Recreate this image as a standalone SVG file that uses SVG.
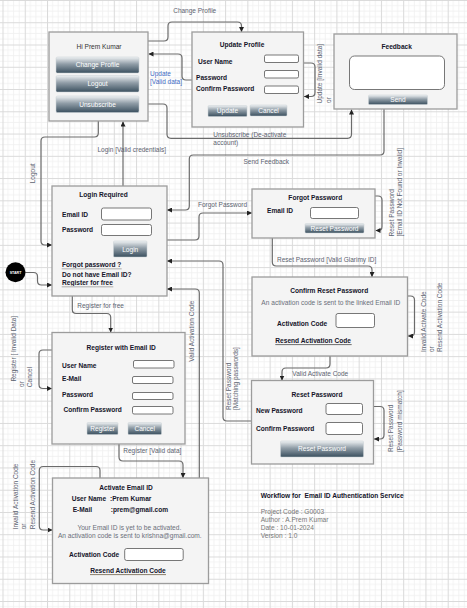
<svg xmlns="http://www.w3.org/2000/svg" width="467" height="608" viewBox="0 0 467 608">
<style>
text{font-family:"Liberation Sans",Arial,Helvetica,sans-serif;font-size:6.6px}
.b{font-weight:bold;fill:#15152a}
.n{fill:#333}
.info{fill:#6a6f7a}
.c{text-anchor:middle}
.lbl{fill:#5c6370;font-size:6.5px}
.blue{fill:#3f6cc4;font-size:6.5px}
.btn{fill:#fff;text-anchor:middle}
.box{fill:#f4f4f4;stroke:#9c9c9c;stroke-width:1.3}
.inp{fill:#fff;stroke:#555;stroke-width:0.8}
.bt{fill:url(#bg);stroke:#c9d0d5;stroke-width:0.5}
.edge{fill:none;stroke:#6b6b6b;stroke-width:1.2;marker-end:url(#arr)}
.loop{fill:none;stroke:#6b6b6b;stroke-width:1.2;marker-end:url(#arr)}
.info2{fill:#777;font-size:6.6px}
</style>
<defs>
<pattern id="grid" width="22.26" height="22.26" patternUnits="userSpaceOnUse" x="2.5" y="0">
<rect width="22.26" height="22.26" fill="#fff"/>
<path d="M5.565 0V22.26M11.13 0V22.26M16.695 0V22.26M0 5.565H22.26M0 11.13H22.26M0 16.695H22.26" stroke="#efefef" stroke-width="0.8"/>
<path d="M0.5 0V22.26M0 0.5H22.26" stroke="#dadada" stroke-width="1"/>
</pattern>
<linearGradient id="bg" x1="0" y1="0" x2="0" y2="1">
<stop offset="0" stop-color="#eef1f3"/>
<stop offset="0.45" stop-color="#8f9ca6"/>
<stop offset="1" stop-color="#3b505f"/>
</linearGradient>
<marker id="arr" markerWidth="5" markerHeight="5" refX="5" refY="2.5" orient="auto" markerUnits="userSpaceOnUse">
<path d="M0,0 L5,2.5 L0,5 z" fill="#222"/>
</marker>
</defs>
<rect width="467" height="608" fill="url(#grid)"/>

<g id="connectors">
<path class="edge" d="M148,41 H164 Q168,41 168,37 V26 Q168,22 172,22 H237.5 Q241.5,22 241.5,26 V32"/>
<path class="edge" d="M192,80 H186 Q182,80 182,76 V58 Q182,54 178,54 H148.5"/>
<path class="loop" d="M303,63 H311 Q315,63 315,67 V92.5 Q315,96.5 311,96.5 H304"/>
<path class="edge" d="M148,104 H163 Q167,104 167,108 V134.3 Q167,138.3 171,138.3 H347.5 Q351.5,138.3 351.5,134.3 V109.5"/>
<path class="edge" d="M384,109 V151 Q384,155 380,155 H193.3 Q189.3,155 189.3,159 V206 Q189.3,210 185.3,210 H167"/>
<path class="edge" d="M98.3,121 V133 Q98.3,137 94.3,137 H45 Q41,137 41,141 V241 Q41,245 45,245 H52"/>
<path class="edge" d="M123,186 V121.5"/>
<path class="edge" d="M167,240 H195 Q199,240 199,236 V217 Q199,213 203,213 H252"/>
<path class="loop" d="M375,196 H378 Q382,196 382,200 V226.5 Q382,230.5 378,230.5 H375.5"/>
<path class="edge" d="M272.3,238 V262 Q272.3,266 276.3,266 H368 Q372,266 372,270 V277"/>
<path class="loop" d="M407.5,296 H410.5 Q414.5,296 414.5,300 V332 Q414.5,336 410.5,336 H408"/>
<path class="edge" d="M330,356 V364 Q330,368 326,368 H286 Q282,368 282,372 V380.5"/>
<path class="loop" d="M373.5,406.5 H380 Q384,406.5 384,410.5 V435 Q384,439 380,439 H374"/>
<path class="edge" d="M251.5,421 H227 Q223,421 223,417 V265 Q223,261 219,261 H167"/>
<path class="edge" d="M199.3,478 V293 Q199.3,289 195.3,289 H167"/>
<path class="edge" d="M25.5,272.5 H33.5 Q37.5,272.5 37.5,276.5 V281 Q37.5,285 41.5,285 H52"/>
<path class="edge" d="M72.3,296 V309.5 Q72.3,313.5 76.3,313.5 H106.7 Q110.7,313.5 110.7,317.5 V332.5"/>
<path class="loop" d="M52,350 H43 Q39,350 39,354 V384.5 Q39,388.5 43,388.5 H52"/>
<path class="edge" d="M119,444 V457 Q119,461 123,461 H179 Q183,461 183,465 V478"/>
<path class="loop" d="M100,478 V470.5 Q100,466.5 96,466.5 H43.3 Q39.3,466.5 39.3,470.5 V526 Q39.3,530 43.3,530 H52.5"/>

<text class="lbl c" x="194.7" y="13">Change Profile</text>
<text class="blue" x="150" y="75.6">Update</text>
<text class="blue" x="150" y="83.6">[Valid data]</text>
<text class="lbl c" transform="rotate(-90 322.3 73.7)" x="322.3" y="73.7">Update [Invalid data]</text>
<text class="lbl c" transform="rotate(-90 330.6 100)" x="330.6" y="100">or</text>
<text class="lbl" x="213.3" y="137">Unsubscribe (De-activate</text>
<text class="lbl" x="213.3" y="144.6">account)</text>
<text class="lbl" x="243.5" y="164">Send Feedback</text>
<text class="lbl c" transform="rotate(-90 35 173.3)" x="35" y="173.3">Logout</text>
<text class="lbl c" x="131.7" y="151.6">Login [Valid credentials]</text>
<text class="lbl" x="198" y="207">Forgot Password</text>
<text class="lbl" transform="rotate(-90 394 236.5)" x="394" y="236.5">Reset Password</text>
<text class="lbl" transform="rotate(-90 402.3 236.5)" x="402.3" y="236.5">[Email ID Not Found or Invalid]</text>
<text class="lbl" x="277" y="262">Reset Password [Valid Glarimy ID]</text>
<text class="lbl" transform="rotate(-90 425.6 352)" x="425.6" y="352">Invalid Activate Code</text>
<text class="lbl" transform="rotate(-90 434 352)" x="434" y="352">or</text>
<text class="lbl" transform="rotate(-90 441.8 352)" x="441.8" y="352">Resend Activation Code</text>
<text class="lbl" x="292.3" y="375.6">Valid Activate Code</text>
<text class="lbl" transform="rotate(-90 393.3 452)" x="393.3" y="452">Reset Password</text>
<text class="lbl" transform="rotate(-90 401.6 452)" x="401.6" y="452">[Password mismatch]</text>
<text class="lbl" transform="rotate(-90 230.6 410)" x="230.6" y="410">Reset Password</text>
<text class="lbl" transform="rotate(-90 238.3 410)" x="238.3" y="410">[Matching passwords]</text>
<text class="lbl" transform="rotate(-90 194.5 361.7)" x="194.5" y="361.7">Valid Activation Code</text>
<text class="lbl" x="77.3" y="308">Register for free</text>
<text class="lbl c" transform="rotate(-90 16.3 348.7)" x="16.3" y="348.7">Register [ Invalid Data]</text>
<text class="lbl c" transform="rotate(-90 24.3 384)" x="24.3" y="384">or</text>
<text class="lbl c" transform="rotate(-90 32.3 377)" x="32.3" y="377">Cancel</text>
<text class="lbl" x="123.3" y="453">Register [Valid data]</text>
<text class="lbl" transform="rotate(-90 18.3 529.3)" x="18.3" y="529.3">Invalid Activation Code</text>
<text class="lbl" transform="rotate(-90 26.3 529.3)" x="26.3" y="529.3">or</text>
<text class="lbl" transform="rotate(-90 34.6 529.3)" x="34.6" y="529.3">Resend Activation Code</text>
</g>

<g id="start">
<circle cx="15.5" cy="272.3" r="10" fill="#000"/>
<text x="15.5" y="273.6" fill="#fff" font-weight="bold" text-anchor="middle" style="font-size:3.6px">START</text>
</g>

<g id="home">
<rect class="box" x="49" y="32" width="99" height="89"/>
<text class="n c" x="99" y="48.8">Hi Prem Kumar</text>
<rect class="bt" x="56" y="57" width="83" height="16" rx="1.5"/>
<text class="btn" x="97.5" y="67.3">Change Profile</text>
<rect class="bt" x="56" y="75.5" width="83" height="16.5" rx="1.5"/>
<text class="btn" x="97.5" y="86">Logout</text>
<rect class="bt" x="56" y="96" width="83" height="16.5" rx="1.5"/>
<text class="btn" x="97.5" y="106.5">Unsubscribe</text>
</g>

<g id="update-profile">
<rect class="box" x="192" y="32" width="111.5" height="95"/>
<text class="b c" x="242" y="46.6">Update Profile</text>
<text class="b" x="198" y="64.3">User Name</text>
<text class="b" x="196" y="79.6">Password</text>
<text class="b" x="196" y="91">Confirm Password</text>
<rect class="inp" x="264.5" y="55" width="34" height="7.5" rx="1.5"/>
<rect class="inp" x="264.5" y="70.5" width="34" height="7.5" rx="1.5"/>
<rect class="inp" x="264.5" y="86" width="34" height="7.5" rx="1.5"/>
<rect class="bt" x="208" y="105.5" width="39" height="11" rx="1"/>
<text class="btn" x="227.5" y="113.3">Update</text>
<rect class="bt" x="250" y="105" width="37" height="11" rx="1"/>
<text class="btn" x="268.5" y="112.8">Cancel</text>
</g>

<g id="feedback">
<rect class="box" x="334" y="34" width="123" height="75"/>
<text class="b c" x="396.7" y="48.6">Feedback</text>
<rect class="inp" x="349.5" y="56" width="95" height="33.5" rx="5"/>
<rect class="bt" x="368.5" y="95" width="59" height="9.5" rx="1"/>
<text class="btn" x="398" y="102.2">Send</text>
</g>

<g id="login">
<rect class="box" x="52" y="186" width="115" height="110"/>
<text class="b c" x="103.5" y="197">Login Required</text>
<text class="b" x="62" y="216.6">Email ID</text>
<rect class="inp" x="101.5" y="208" width="50" height="12" rx="2"/>
<text class="b" x="62" y="231.6">Password</text>
<rect class="inp" x="101.5" y="224.5" width="50" height="11" rx="2"/>
<rect class="bt" x="113.5" y="241" width="33.5" height="16" rx="1"/>
<text class="btn" x="130.2" y="251.6">Login</text>
<text class="b" x="62" y="267">Forgot password ?</text>
<line x1="61.7" y1="268.8" x2="121.7" y2="268.8" stroke="#c4c4c4" stroke-width="1.4"/>
<text class="b" x="62" y="277">Do not have Email ID?</text>
<text class="b" x="62" y="285">Register for free</text>
<line x1="61.7" y1="286.8" x2="113.3" y2="286.8" stroke="#c4c4c4" stroke-width="1.4"/>
</g>

<g id="forgot-password">
<rect class="box" x="252" y="189" width="123" height="49"/>
<text class="b c" x="315.3" y="199.6">Forgot Password</text>
<text class="b" x="267" y="213">Email ID</text>
<rect class="inp" x="310.5" y="207.5" width="48" height="11" rx="2"/>
<rect class="bt" x="305" y="223.5" width="59" height="9.5" rx="1"/>
<text class="btn" x="334.5" y="230.6">Reset Password</text>
</g>

<g id="confirm-reset">
<rect class="box" x="252" y="277" width="155.5" height="79"/>
<text class="b c" x="329.2" y="293">Confirm Reset Password</text>
<text class="info c" x="330.8" y="305.3">An activation code is sent to the linked Email ID</text>
<text class="b" x="277" y="325.6">Activation Code</text>
<rect class="inp" x="336" y="313.5" width="38.5" height="14" rx="2"/>
<text class="b" x="275.3" y="343">Resend Activation Code</text>
<line x1="275.3" y1="344.6" x2="351.7" y2="344.6" stroke="#333" stroke-width="0.7"/>
</g>

<g id="reset-password">
<rect class="box" x="251.5" y="380.5" width="122" height="83.5"/>
<text class="b c" x="317" y="397">Reset Password</text>
<text class="b" x="256" y="412.6">New Password</text>
<rect class="inp" x="326" y="403.5" width="36.5" height="11" rx="2"/>
<text class="b" x="256" y="430.6">Confirm Password</text>
<rect class="inp" x="326" y="422.5" width="36.5" height="12" rx="2"/>
<rect class="bt" x="280.5" y="441" width="83" height="16" rx="1"/>
<text class="btn" x="322" y="451.4">Reset Password</text>
</g>

<g id="register">
<rect class="box" x="52" y="332.5" width="133" height="111.5"/>
<text class="b c" x="121.2" y="349.6">Register with Email ID</text>
<text class="b" x="62" y="367.6">User Name</text>
<rect class="inp" x="133.5" y="360.5" width="40.5" height="7.5" rx="1.5"/>
<text class="b" x="62" y="381">E-Mail</text>
<rect class="inp" x="132.5" y="376.5" width="40.5" height="7" rx="1.5"/>
<text class="b" x="62" y="396.6">Password</text>
<rect class="inp" x="132.5" y="392.5" width="40.5" height="7" rx="1.5"/>
<text class="b" x="63.5" y="411.6">Confirm Password</text>
<rect class="inp" x="132.5" y="406.5" width="40.5" height="7.5" rx="1.5"/>
<rect class="bt" x="87" y="422.5" width="31" height="12" rx="1"/>
<text class="btn" x="102.5" y="430.8">Register</text>
<rect class="bt" x="128" y="422.5" width="33.5" height="12" rx="1"/>
<text class="btn" x="144.7" y="430.8">Cancel</text>
</g>

<g id="activate">
<rect class="box" x="52.5" y="478" width="156" height="105.5"/>
<text class="b c" x="126" y="489.6">Activate Email ID</text>
<text class="b" x="71.7" y="501">User Name</text>
<text class="b" x="110" y="501">:Prem Kumar</text>
<text class="b" x="72.7" y="512">E-Mail</text>
<text class="b" x="110.7" y="511.5">:prem@gmail.com</text>
<text class="info c" x="129.3" y="530">Your Email ID is yet to be activated.</text>
<text class="info c" x="129.8" y="538">An activation code is sent to krishna@gmail.com.</text>
<text class="b" x="69" y="557">Activation Code</text>
<rect class="inp" x="124.7" y="548.5" width="58.5" height="12" rx="2"/>
<text class="b c" x="128" y="573">Resend Activation Code</text>
<line x1="90" y1="574.6" x2="166" y2="574.6" stroke="#5a4a30" stroke-width="0.7"/>
</g>

<g id="info">
<text class="b" x="260.7" y="497.6" style="white-space:pre">Workflow for  Email ID Authentication Service</text>
<text class="info2" x="260.7" y="514">Project Code : G0003</text>
<text class="info2" x="260.7" y="522">Author : A.Prem Kumar</text>
<text class="info2" x="260.7" y="530">Date : 10-01-2024</text>
<text class="info2" x="260.7" y="538">Version : 1.0</text>
</g>
</svg>
